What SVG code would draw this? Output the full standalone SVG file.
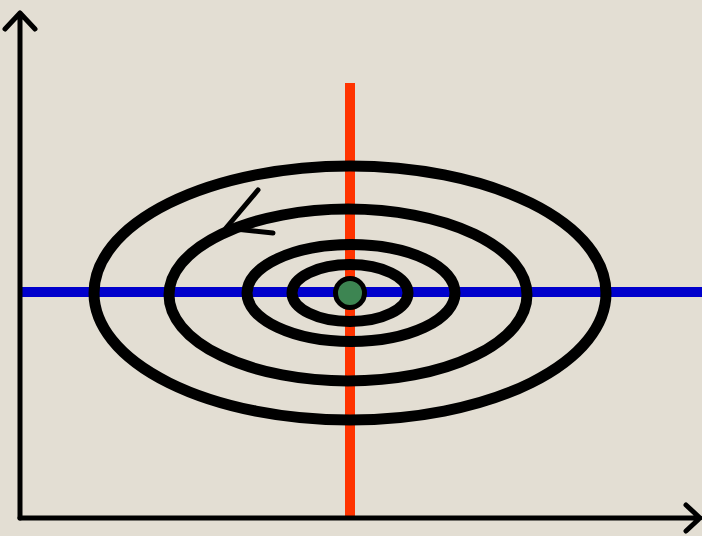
<svg xmlns="http://www.w3.org/2000/svg" width="702" height="536" viewBox="0 0 702 536">
<style>
.ax{stroke:#000;stroke-width:5;fill:none;stroke-linecap:round;stroke-linejoin:round}
.orb{stroke:#000;stroke-width:11;fill:none}
</style>
<rect width="702" height="536" fill="#E3DED3"/>
<g id="connectors">
<line x1="350" y1="83" x2="350" y2="519" stroke="#FF3300" stroke-width="10"/>
<line x1="21" y1="292" x2="702" y2="292" stroke="#0000CC" stroke-width="10"/>
<path class="ax" d="M20 518 V13 M5 29 L20 13 L35 29"/>
<path class="ax" d="M20 518 H700 M686 505 L700 518 L686 531"/>
</g>
<g id="orbits">
<ellipse class="orb" cx="350" cy="293" rx="256" ry="127"/>
<ellipse class="orb" cx="348" cy="295" rx="179" ry="86"/>
<ellipse class="orb" cx="351" cy="293" rx="104" ry="48.5"/>
<ellipse class="orb" cx="350" cy="293" rx="58" ry="28.5"/>
<path class="ax" d="M258 190 L226 228 L273 233"/>
</g>
<g id="center">
<circle cx="350" cy="293" r="14.5" fill="#3D8552" stroke="#000" stroke-width="5"/>
</g>
</svg>
